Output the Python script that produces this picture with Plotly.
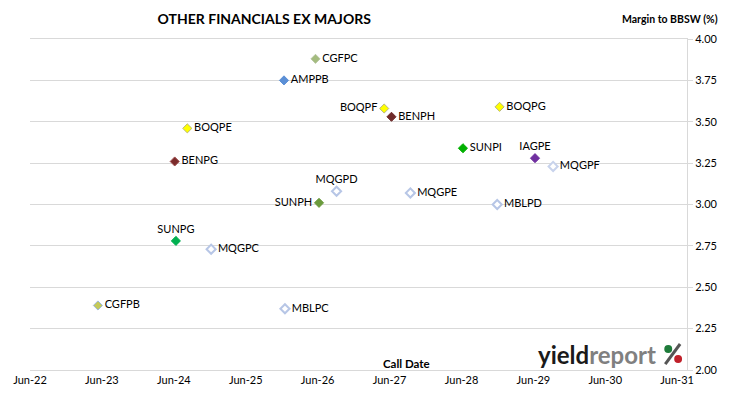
import plotly.graph_objects as go

# ---- data ----
names = ["CGFPB", "BENPG", "SUNPG", "BOQPE", "MQGPC", "AMPPB", "MBLPC", "CGFPC", "SUNPH",
         "MQGPD", "BOQPF", "BENPH", "MQGPE", "SUNPI", "MBLPD", "BOQPG", "IAGPE", "MQGPF"]
call_dates = ["2023-06-10", "2024-07-04", "2024-07-10", "2024-09-06", "2025-01-05", "2026-01-10",
              "2026-01-15", "2026-06-19", "2026-07-07", "2026-10-04", "2027-06-03", "2027-07-10",
              "2027-10-14", "2028-07-07", "2028-12-28", "2029-01-09", "2029-07-08", "2029-10-08"]
margins = [2.39, 3.26, 2.78, 3.46, 2.73, 3.75, 2.37, 3.88, 3.01,
           3.08, 3.58, 3.53, 3.07, 3.34, 3.00, 3.59, 3.28, 3.23]
tick_dates = ["2022-06-30", "2023-06-30", "2024-06-30", "2025-06-30", "2026-06-30",
              "2027-06-30", "2028-06-30", "2029-06-30", "2030-06-30", "2031-06-30"]
tick_labels = ["Jun-22", "Jun-23", "Jun-24", "Jun-25", "Jun-26", "Jun-27", "Jun-28",
               "Jun-29", "Jun-30", "Jun-31"]
y_ticks = [2.00, 2.25, 2.50, 2.75, 3.00, 3.25, 3.50, 3.75, 4.00]

# ---- styles (fill, edge) ----
style = {
    "CGFPB": ("#C4C95A", "#9DB8DC"),
    "BENPG": ("#7B2C2C", "#A05050"),
    "SUNPG": ("#00B050", "#00B050"),
    "BOQPE": ("#FFFF00", "#B8B87A"),
    "MQGPC": ("#FFFFFF", "#B7C6E6"),
    "AMPPB": ("#5B8FD6", "#5B8FD6"),
    "MBLPC": ("#FFFFFF", "#B7C6E6"),
    "CGFPC": ("#A4BC7E", "#B9C8A4"),
    "SUNPH": ("#6A9A3C", "#6A9A3C"),
    "MQGPD": ("#FFFFFF", "#B7C6E6"),
    "BOQPF": ("#FFFF00", "#B8B87A"),
    "BENPH": ("#6E2A2A", "#6E2A2A"),
    "MQGPE": ("#FFFFFF", "#B7C6E6"),
    "SUNPI": ("#00B000", "#00B000"),
    "MBLPD": ("#FFFFFF", "#B7C6E6"),
    "BOQPG": ("#FFFF00", "#B8B87A"),
    "IAGPE": ("#7030A0", "#7030A0"),
    "MQGPF": ("#FFFFFF", "#C8D3EC"),
}
label_pos = {
    "MQGPD": "top center", "IAGPE": "top center", "SUNPG": "top center",
    "SUNPH": "middle left", "BOQPF": "middle left",
}

fills = [style[n][0] for n in names]
edges = [style[n][1] for n in names]
widths = [2 if style[n][0] == "#FFFFFF" else 1 for n in names]
tpos = [label_pos.get(n, "middle right") for n in names]
labels = [("\u2009" + n) if tpos[i] == "middle right" else
          ((n + "\u2009") if tpos[i] == "middle left" else n) for i, n in enumerate(names)]

FONT = "Lato, Liberation Sans, Arial, sans-serif"

fig = go.Figure()
fig.add_trace(go.Scatter(
    x=call_dates, y=margins, text=labels, mode="markers+text",
    textposition=tpos,
    textfont=dict(family=FONT, size=11, color="#000000"),
    marker=dict(symbol="diamond", size=7, color=fills,
                line=dict(color=edges, width=widths)),
    showlegend=False, cliponaxis=False,
))

fig.update_layout(
    width=730, height=399,
    margin=dict(l=29.5, r=35, t=39, b=29),
    paper_bgcolor="white", plot_bgcolor="white",
    font=dict(family=FONT, size=11, color="#000000"),
    title=dict(text="<b>OTHER FINANCIALS EX MAJORS</b>", x=0.362, xref="container",
               xanchor="center", y=0.952, yanchor="middle",
               font=dict(family=FONT, size=14, color="#000000")),
    xaxis=dict(type="date", range=["2022-06-30", "2031-08-19"],
               tickvals=tick_dates, ticktext=tick_labels,
               showgrid=False, zeroline=False, showline=True, mirror=True,
               linecolor="#D9D9D9", linewidth=1, ticks="",
               tickfont=dict(family=FONT, size=11)),
    yaxis=dict(range=[2.0, 4.0], side="right", tickvals=y_ticks,
               tickformat=".2f", showgrid=True, gridcolor="#D9D9D9", gridwidth=1,
               zeroline=False, showline=True, linecolor="#D9D9D9", linewidth=1,
               ticks="outside", ticklen=5, tickcolor="#D9D9D9",
               tickfont=dict(family=FONT, size=11)),
)

fig.add_annotation(text="<b>Margin to BBSW (%)</b>", xref="paper", yref="paper",
                   x=1.0496, y=1.0614, xanchor="right", yanchor="middle", showarrow=False,
                   font=dict(family=FONT, size=10.5, color="#000000"))
fig.add_annotation(text="<b>Call Date</b>", xref="paper", yref="paper",
                   x=0.5733, y=0.021, xanchor="center", yanchor="middle", showarrow=False,
                   font=dict(family=FONT, size=11.5, color="#000000"))
# logo
fig.add_annotation(text="<b><span style='color:#1A1A1A'>yield</span><span style='color:#808080'>report</span></b>",
                   xref="paper", yref="paper", x=0.770, y=0.048, xanchor="left", yanchor="middle",
                   showarrow=False, font=dict(family=FONT, size=24))
fig.add_shape(type="line", xref="paper", yref="paper", x0=0.9669, y0=0.018, x1=0.9895, y1=0.0786,
              line=dict(color="#555555", width=3))
fig.add_shape(type="circle", xref="paper", yref="paper", x0=0.9654, x1=0.9775, y0=0.0514, y1=0.0756,
              fillcolor="#1E7B3A", line=dict(width=0))
fig.add_shape(type="circle", xref="paper", yref="paper", x0=0.9805, x1=0.9925, y0=0.0212, y1=0.0454,
              fillcolor="#C0202A", line=dict(width=0))

fig.write_html("out.html", config={"displayModeBar": False},
               post_script="document.body.style.margin='0';")
